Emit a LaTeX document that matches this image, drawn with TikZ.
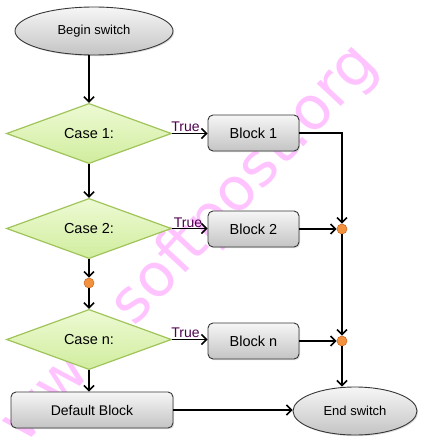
\documentclass[tikz,border=0pt]{standalone}
\usepackage{fontspec}
\setmainfont{Liberation Sans}
\newfontfamily\wmfont{DejaVu Sans}
\usetikzlibrary{shapes.geometric,arrows.meta,shadows}
\definecolor{dgreen}{RGB}{160,196,90}
\definecolor{lgreenT}{RGB}{238,250,212}
\definecolor{lgreenB}{RGB}{208,237,158}
\definecolor{grayT}{RGB}{246,246,246}
\definecolor{grayB}{RGB}{196,196,196}
\definecolor{edge}{RGB}{55,55,55}
\definecolor{dotfill}{RGB}{242,146,62}
\definecolor{dotedge}{RGB}{205,110,40}
\definecolor{truecol}{RGB}{80,0,80}
\definecolor{wmark}{RGB}{255,196,255}
\begin{document}
\begin{tikzpicture}[x=1pt,y=-1pt,
  font=\fontsize{14.5}{17}\selectfont,
  conn/.style={line width=1.6pt,-{Straight Barb[length=5pt,width=10pt,line width=1.6pt]}},
  casebox/.style={diamond,draw=dgreen,line width=1.2pt,top color=lgreenT,bottom color=lgreenB,
    minimum width=165pt,minimum height=59pt,inner sep=0pt},
  blockbox/.style={rectangle,rounded corners=5pt,draw=edge,line width=0.9pt,top color=grayT,bottom color=grayB,
    drop shadow={opacity=0.25,shadow xshift=1.2pt,shadow yshift=-1.2pt},inner sep=0pt},
  termbox/.style={ellipse,draw=edge,line width=0.9pt,top color=grayT,bottom color=grayB,
    drop shadow={opacity=0.25,shadow xshift=1.2pt,shadow yshift=-1.2pt},inner sep=0pt,
    font=\fontsize{13}{15}\selectfont},
  joint/.style={circle,fill=dotfill,draw=dotedge,line width=0.6pt,minimum size=10pt,inner sep=0pt},
  truelab/.style={text=truecol,inner sep=1pt,font=\fontsize{14}{16}\selectfont}
]
\useasboundingbox (0,0) rectangle (424,442);
\fill[white] (0,0) rectangle (424,442);
% watermark
\node[text=wmark,rotate=47,font=\wmfont\fontsize{60}{60}\selectfont] (wm) at (190,244) {www.softpost.org};

\node[termbox,minimum width=158pt,minimum height=48pt] (begin) at (94,31) {Begin switch};
\node[casebox] (case1) at (89,133.5) {Case 1:};
\node[casebox] (case2) at (89,228.5) {Case 2:};
\node[joint] (dot1) at (89,283) {};
\node[casebox] (casen) at (89,339.5) {Case n:};
\node[blockbox,minimum width=162pt,minimum height=36pt,font=\fontsize{14}{16}\selectfont] (default) at (92,410) {Default Block};

\node[blockbox,minimum width=91pt,minimum height=36pt] (block1) at (253.5,133) {Block 1};
\node[blockbox,minimum width=91pt,minimum height=36pt] (block2) at (253.5,229) {Block 2};
\node[blockbox,minimum width=91pt,minimum height=36pt] (blockn) at (253.5,341) {Block n};

\node[joint] (dot2) at (342,229) {};
\node[joint] (dot3) at (342,341) {};
\node[termbox,minimum width=124pt,minimum height=48pt] (end) at (355,411) {End switch};

\draw[conn] (begin.south -| case1.north) -- (case1.north);
\draw[conn] (case1.south) -- (case2.north);
\draw[conn] (case2.south) -- (dot1.north);
\draw[conn] (dot1.south) -- (casen.north);
\draw[conn] (casen.south) -- (casen.south |- default.north);

\draw[conn] (case1.east) -- (case1.east -| block1.west) node[truelab,pos=0.38,above] (t1) {True};
\draw[conn] (case2.east) -- (case2.east -| block2.west) node[truelab,pos=0.45,above,inner sep=0pt] (t2) {True};
\draw[conn] (casen.east) -- (casen.east -| blockn.west) node[truelab,pos=0.38,above] (t3) {True};

\draw[conn] (block1.east) -| (dot2.north);
\draw[conn] (block2.east) -- (dot2.west);
\draw[conn] (dot2.south) -- (dot3.north);
\draw[conn] (blockn.east) -- (dot3.west);
\draw[conn] (dot3.south) -- (dot3.south |- end.north);
\draw[conn] (default.east) -- (default.east -| end.west);
\end{tikzpicture}
\end{document}
